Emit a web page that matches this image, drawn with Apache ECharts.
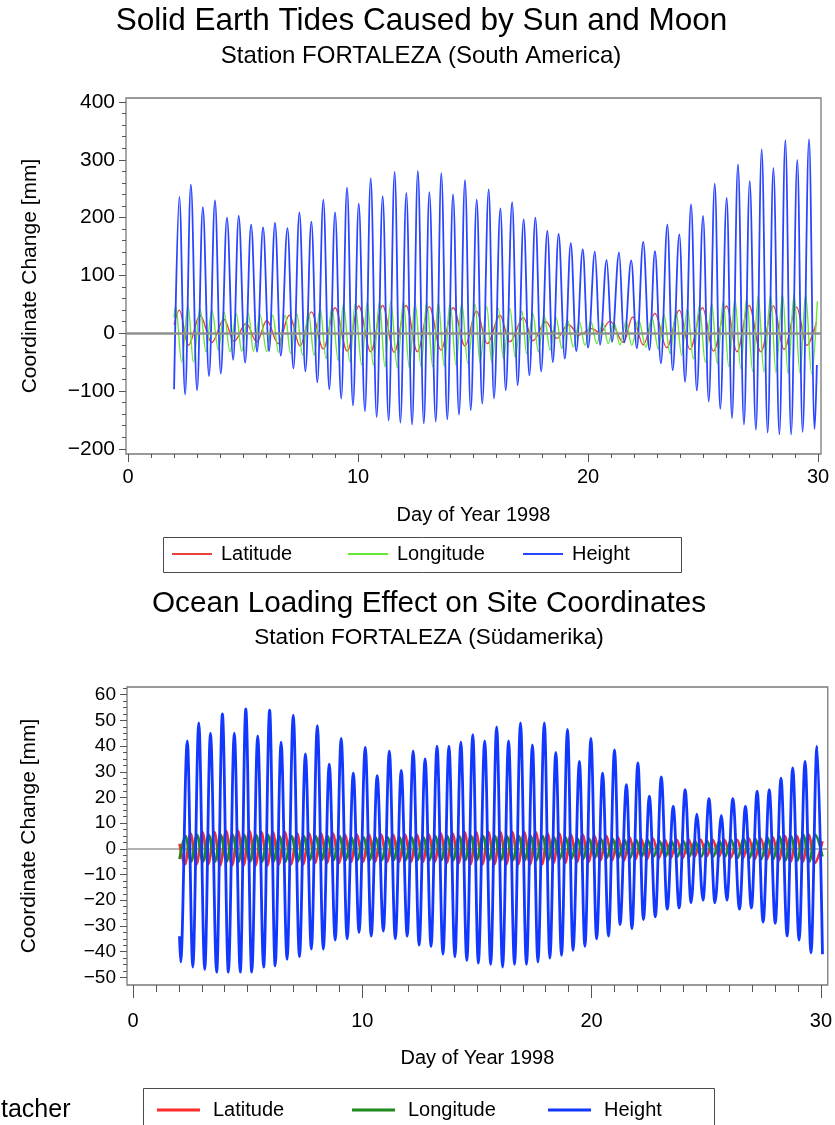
<!DOCTYPE html>
<html>
<head>
<meta charset="utf-8">
<script src="https://cdn.jsdelivr.net/npm/echarts@6/dist/echarts.min.js"></script>
<style>
html, body { margin: 0; padding: 0; background: #fff; }
#chart { width: 835px; height: 1125px; }
</style>
</head>
<body>
<div id="chart"></div>
<script>
// Day-of-year tick labels (both panels) and value tick labels per panel
const dayTickLabels = [0, 10, 20, 30];
const tideTickLabels = [-200, -100, 0, 100, 200, 300, 400];
const oceanTickLabels = [-50, -40, -30, -20, -10, 0, 10, 20, 30, 40, 50, 60];

// Solid earth tides, turning points of each curve: [day of year, mm]
const tideLatitude = [[2.00,15],[2.23,40],[2.62,-21],[3.13,31],[3.64,-16],[4.17,24],[4.61,-14],[5.13,17],[5.60,-15],[6.03,22],[6.53,-18],[7.01,31],[7.48,-22],[7.97,37],[8.49,-27],[9.00,44],[9.53,-31],[10.03,47],[10.55,-32],[11.07,48],[11.57,-33],[12.09,48],[12.58,-32],[13.10,46],[13.60,-29],[14.14,44],[14.65,-22],[15.15,38],[15.62,-18],[16.17,31],[16.60,-15],[17.19,27],[17.60,-13],[18.17,20],[18.64,-9],[19.14,15],[19.62,-3],[20.16,8],[20.52,1],[20.96,21],[21.54,-16],[21.94,28],[22.40,-20],[22.91,34],[23.42,-25],[23.97,40],[24.43,-28],[24.98,44],[25.45,-31],[26.03,47],[26.47,-32],[27.00,48],[27.51,-32],[28.06,47],[28.52,-28],[29.07,45],[29.51,-21],[29.94,20]];

const tideLongitude = [[2.00,27],[2.07,48],[2.33,-50],[2.61,48],[2.84,-50],[3.13,43],[3.39,-32],[3.64,40],[3.93,-29],[4.17,37],[4.43,-32],[4.70,34],[4.94,-31],[5.23,34],[5.45,-31],[5.74,31],[6.03,-32],[6.29,31],[6.54,-33],[6.83,31],[7.07,-35],[7.33,34],[7.59,-38],[7.84,37],[8.09,-38],[8.35,43],[8.61,-44],[8.86,46],[9.14,-47],[9.36,50],[9.65,-50],[9.87,51],[10.16,-55],[10.40,54],[10.67,-55],[10.93,54],[11.17,-58],[11.42,55],[11.71,-60],[11.97,55],[12.23,-60],[12.48,54],[12.74,-58],[12.99,54],[13.25,-58],[13.49,53],[13.75,-57],[14.00,53],[14.26,-55],[14.51,53],[14.77,-52],[15.09,50],[15.30,-50],[15.60,46],[15.81,-50],[16.10,43],[16.32,-44],[16.61,43],[16.83,-41],[17.12,38],[17.33,-35],[17.60,34],[17.84,-32],[18.09,31],[18.35,-29],[18.61,27],[18.86,-26],[19.10,24],[19.36,-24],[19.62,20],[19.87,-21],[20.12,21],[20.38,-18],[20.64,18],[20.88,-18],[21.13,18],[21.39,-20],[21.65,20],[21.90,-21],[22.20,22],[22.52,-24],[22.77,28],[23.06,-27],[23.30,32],[23.57,-35],[23.83,37],[24.07,-38],[24.32,43],[24.58,-44],[24.84,47],[25.10,-50],[25.38,51],[25.62,-52],[25.88,55],[26.12,-58],[26.39,59],[26.64,-61],[26.90,61],[27.16,-66],[27.40,65],[27.65,-67],[27.94,66],[28.17,-68],[28.46,67],[28.70,-70],[28.96,67],[29.22,-70],[29.46,67],[29.72,-70],[29.97,55]];

const tideHeight = [[2.00,-97],[2.23,236],[2.48,-106],[2.73,257],[3.00,-99],[3.25,218],[3.52,-74],[3.78,230],[4.03,-70],[4.30,200],[4.57,-46],[4.81,203],[5.09,-51],[5.35,188],[5.61,-32],[5.87,183],[6.13,-31],[6.39,191],[6.64,-39],[6.93,182],[7.19,-61],[7.45,209],[7.71,-66],[7.97,193],[8.23,-85],[8.49,231],[8.75,-97],[9.00,209],[9.27,-113],[9.52,252],[9.78,-125],[10.03,224],[10.30,-135],[10.55,268],[10.81,-145],[11.07,237],[11.33,-151],[11.59,279],[11.84,-155],[12.10,243],[12.35,-158],[12.60,281],[12.86,-156],[13.10,244],[13.38,-153],[13.62,277],[13.88,-149],[14.13,240],[14.39,-141],[14.65,265],[14.90,-133],[15.16,231],[15.40,-122],[15.68,249],[15.91,-113],[16.19,216],[16.42,-99],[16.70,227],[16.94,-90],[17.20,197],[17.45,-73],[17.71,200],[17.96,-66],[18.23,177],[18.47,-50],[18.72,172],[18.99,-44],[19.25,156],[19.49,-31],[19.77,145],[20.00,-25],[20.30,141],[20.52,-20],[20.81,127],[21.04,-15],[21.35,140],[21.57,-16],[21.88,126],[22.12,-26],[22.40,158],[22.67,-29],[22.91,142],[23.17,-52],[23.45,188],[23.68,-64],[23.97,171],[24.22,-84],[24.48,223],[24.73,-99],[25.00,203],[25.25,-118],[25.51,259],[25.75,-131],[26.03,234],[26.26,-147],[26.52,292],[26.78,-158],[27.03,263],[27.30,-167],[27.55,318],[27.81,-172],[28.06,286],[28.32,-175],[28.58,334],[28.83,-175],[29.10,300],[29.33,-171],[29.61,336],[29.85,-166],[29.95,-55]];

// Ocean loading, turning points of each curve: [day of year, mm]
const oceanLatitude = [[2.03,2],[2.27,-6],[2.51,6],[2.77,-6],[3.03,6.5],[3.28,-6],[3.55,6.5],[3.80,-6.5],[4.06,7],[4.32,-6.5],[4.58,7],[4.82,-6.5],[5.08,7],[5.34,-6.5],[5.60,6.5],[5.86,-6.5],[6.10,6.5],[6.36,-6],[6.62,6.5],[6.89,-6],[7.16,6],[7.42,-6],[7.68,6],[7.94,-5.5],[8.20,6],[8.46,-5.5],[8.72,6],[8.98,-5.5],[9.24,5.5],[9.51,-5],[9.76,5.5],[10.03,-5],[10.29,5.5],[10.55,-5],[10.82,5.5],[11.08,-5],[11.34,5.5],[11.60,-5],[11.86,5.5],[12.12,-5],[12.38,5.5],[12.64,-5],[12.90,5.5],[13.16,-5],[13.42,6],[13.68,-5.5],[13.94,6],[14.20,-5.5],[14.46,6.5],[14.72,-6],[14.96,6.5],[15.24,-6],[15.50,6.5],[15.76,-6],[16.02,6.5],[16.28,-6],[16.54,6.5],[16.80,-6],[17.06,6.5],[17.32,-6],[17.56,6.5],[17.84,-6],[18.08,6],[18.34,-5.5],[18.59,6],[18.85,-5.5],[19.09,5.5],[19.37,-5],[19.61,5.5],[19.87,-5],[20.12,5],[20.38,-4.5],[20.64,5],[20.90,-4.5],[21.14,4.5],[21.42,-4.5],[21.66,4.5],[21.92,-4],[22.16,4],[22.42,-4],[22.68,4],[22.94,-3.5],[23.20,3.5],[23.46,-3.5],[23.72,3.5],[23.98,-3.5],[24.24,3.5],[24.49,-3],[24.76,3.5],[25.02,-3],[25.28,3.5],[25.56,-3],[25.80,3.5],[26.06,-3.5],[26.35,3.5],[26.61,-3.5],[26.87,4],[27.12,-4],[27.38,4],[27.65,-4],[27.91,4.5],[28.16,-4.5],[28.43,5],[28.67,-5],[28.95,5],[29.21,-5],[29.47,5.5],[29.73,-5.5],[30.07,3]];

const oceanLongitude = [[2.03,-4],[2.29,5],[2.53,-5],[2.79,5.5],[3.05,-5],[3.30,5.5],[3.57,-5],[3.82,5.5],[4.08,-5],[4.34,5.5],[4.60,-5],[4.84,5.5],[5.10,-5],[5.36,5.5],[5.62,-5],[5.88,5.5],[6.12,-5],[6.38,5],[6.64,-5],[6.91,5],[7.18,-5],[7.44,5],[7.70,-4.5],[7.96,5],[8.22,-4.5],[8.48,5],[8.74,-4.5],[9.00,5],[9.26,-4.5],[9.53,4.5],[9.78,-4.5],[10.05,4.5],[10.31,-4.5],[10.57,4.5],[10.84,-4.5],[11.10,4.5],[11.36,-4.5],[11.62,4.5],[11.88,-4.5],[12.14,4.5],[12.40,-4.5],[12.66,4.5],[12.92,-4.5],[13.18,5],[13.44,-4.5],[13.70,5],[13.96,-4.5],[14.22,5],[14.48,-4.5],[14.74,5],[14.98,-4.5],[15.26,5],[15.52,-4.5],[15.78,5],[16.04,-4.5],[16.30,5],[16.56,-4.5],[16.82,5],[17.08,-4.5],[17.34,5],[17.58,-4.5],[17.86,5],[18.10,-4.5],[18.36,4.5],[18.61,-4],[18.87,4.5],[19.11,-4],[19.39,4],[19.63,-4],[19.89,4],[20.14,-3.5],[20.40,4],[20.66,-3.5],[20.92,4],[21.16,-3.5],[21.44,3.5],[21.68,-3.5],[21.94,3.5],[22.18,-3],[22.44,3.5],[22.70,-3],[22.96,3],[23.22,-3],[23.48,3],[23.74,-3],[24.00,3],[24.26,-3],[24.51,3],[24.78,-3],[25.04,3],[25.30,-3],[25.58,3],[25.82,-3],[26.08,3.5],[26.37,-3.5],[26.63,4],[26.89,-3.5],[27.14,4],[27.40,-4],[27.67,4.5],[27.93,-4],[28.18,5],[28.45,-4.5],[28.69,5],[28.97,-4.5],[29.23,5.5],[29.49,-5],[29.75,5.5],[30.07,-3]];

const oceanHeight = [[2.03,-34],[2.08,-44],[2.37,42],[2.61,-46],[2.87,49],[3.13,-47],[3.38,45],[3.65,-48],[3.90,52.5],[4.16,-48],[4.42,45],[4.68,-48],[4.92,54.5],[5.18,-48],[5.44,44],[5.70,-46],[5.96,54],[6.20,-45.5],[6.46,41.5],[6.72,-43],[6.99,52],[7.26,-42],[7.52,37],[7.78,-39],[8.04,48],[8.30,-39],[8.56,33],[8.82,-35.5],[9.08,43],[9.34,-35],[9.61,29.5],[9.86,-32.5],[10.13,39.5],[10.39,-34],[10.65,28.5],[10.92,-32],[11.18,38],[11.44,-35],[11.70,30.5],[11.96,-34],[12.22,38],[12.48,-37.5],[12.74,35],[13.00,-38],[13.26,40],[13.52,-41],[13.78,40],[14.04,-42],[14.30,41.5],[14.56,-43.5],[14.82,44.5],[15.06,-44.5],[15.34,42],[15.60,-45],[15.86,47.5],[16.12,-46],[16.38,42],[16.64,-45],[16.90,49],[17.16,-45],[17.42,40.5],[17.66,-44],[17.94,49],[18.18,-42.5],[18.44,37.5],[18.69,-41.5],[18.95,46.5],[19.19,-39.5],[19.47,34],[19.71,-38],[19.97,43],[20.22,-35],[20.48,29.5],[20.74,-34],[21.00,38.5],[21.24,-29.5],[21.52,25],[21.76,-31],[22.02,33.5],[22.26,-27.5],[22.52,20.5],[22.78,-26.5],[23.04,28],[23.30,-23.5],[23.56,16.5],[23.82,-23],[24.08,23],[24.34,-21],[24.59,13.5],[24.86,-20],[25.12,19.5],[25.38,-21],[25.66,13],[25.90,-20],[26.16,19.5],[26.45,-23.5],[26.71,16.5],[26.97,-23],[27.22,22.5],[27.48,-28.5],[27.75,23],[28.01,-29],[28.26,27.5],[28.53,-34],[28.77,31.5],[29.05,-35.5],[29.31,34],[29.57,-40.5],[29.83,40],[30.07,-41]];

const FONT = '"Liberation Sans", Arial, Helvetica, sans-serif';
const INK = '#000000';
const FRAME = '#7a7a7a';
const TICK = '#555555';

const TOP_COLORS = { Latitude: '#e8403a', Longitude: '#66e636', Height: '#2a45ff' };
const BOT_COLORS = { Latitude: '#ff2a2a', Longitude: '#1e8a1e', Height: '#1238ff' };

const minus = v => (v < 0 ? '\u2212' + Math.abs(v) : String(v));
const rangeStep = (a, b, s) => { const out = []; for (let v = a; v <= b + 1e-9; v += s) out.push(+v.toFixed(3)); return out; };

// minor tick positions
const dayMinor = rangeStep(0, 30, 1);
const tideMinor = rangeStep(-200, 400, 20);
const oceanMinor = rangeStep(-50, 62.5, 2.5);

function xAxes(grid, min, max, tickLen, minorLen, margin, nameGap) {
  const base = {
    type: 'value', gridIndex: grid, position: 'bottom', min, max,
    axisLine: { show: false, onZero: false },
    splitLine: { show: false }
  };
  return [
    Object.assign({}, base, {
      axisTick: { show: true, length: tickLen, customValues: dayTickLabels, lineStyle: { color: TICK, width: 1 } },
      axisLabel: { customValues: dayTickLabels, margin, fontSize: 20, fontFamily: FONT, color: INK },
      name: 'Day of Year 1998', nameLocation: 'middle', nameGap,
      nameTextStyle: { fontSize: 20, fontFamily: FONT, color: INK }
    }),
    Object.assign({}, base, {
      axisTick: { show: true, length: minorLen, customValues: dayMinor, lineStyle: { color: TICK, width: 1 } },
      axisLabel: { show: false }
    })
  ];
}

function yAxes(grid, min, max, majors, minors, fontSize, nameGap, margin) {
  const base = {
    type: 'value', gridIndex: grid, position: 'left', min, max,
    axisLine: { show: false, onZero: false },
    splitLine: { show: false }
  };
  return [
    Object.assign({}, base, {
      axisTick: { show: true, length: 7, customValues: majors, lineStyle: { color: TICK, width: 1 } },
      axisLabel: { customValues: majors, formatter: minus, margin, fontSize, fontFamily: FONT, color: INK },
      name: 'Coordinate Change [mm]', nameLocation: 'middle', nameRotate: 90, nameGap,
      nameTextStyle: { fontSize: 21, fontFamily: FONT, color: INK }
    }),
    Object.assign({}, base, {
      axisTick: { show: true, length: 4, customValues: minors, lineStyle: { color: TICK, width: 1 } },
      axisLabel: { show: false }
    })
  ];
}

function lineSeries(name, data, grid, color, width, extra) {
  return Object.assign({
    type: 'line', name, data,
    xAxisIndex: grid * 2, yAxisIndex: grid * 2,
    showSymbol: false, symbol: 'none',
    smooth: 0.36, smoothMonotone: 'x',
    lineStyle: { color, width },
    itemStyle: { color },
    silent: true, clip: true
  }, extra || {});
}

function legendItem(left, top, name, color, h, fontSize, gap, iconW) {
  return {
    left, top, orient: 'horizontal', padding: 0, icon: 'rect',
    itemWidth: iconW, itemHeight: h, selectedMode: false,
    data: [{ name, itemStyle: { color } }],
    textStyle: { fontSize, fontFamily: FONT, color: INK, lineHeight: 22, padding: [0, 0, 0, gap] }
  };
}

function titleText(text, x, y, size) {
  return { text, left: x, top: y, textAlign: 'center', padding: 0,
    textStyle: { fontSize: size, fontWeight: 'normal', fontFamily: FONT, color: INK, lineHeight: size + 1 } };
}

const chart = echarts.init(document.getElementById('chart'), null, { renderer: 'canvas' });

chart.setOption({
  animation: false,
  backgroundColor: '#ffffff',
  title: [
    titleText('Solid Earth Tides Caused by Sun and Moon', 421.5, 5, 31.5),
    titleText('Station FORTALEZA (South America)', 421, 44, 24),
    titleText('Ocean Loading Effect on Site Coordinates', 429, 588, 29.7),
    titleText('Station FORTALEZA (S\u00fcdamerika)', 429, 626, 22.6)
  ],
  grid: [
    { left: 126, top: 98, width: 695, height: 356, show: true, borderColor: FRAME, borderWidth: 1.3, backgroundColor: 'transparent' },
    { left: 127, top: 687, width: 706, height: 298, show: true, borderColor: FRAME, borderWidth: 1.3, backgroundColor: 'transparent' }
  ],
  xAxis: [
    ...xAxes(0, -0.09, 30.13, 8, 4, 13, 51),
    ...xAxes(1, -0.26, 30.30, 13, 7, 26, 63)
  ],
  yAxis: [
    ...yAxes(0, -209, 407, tideTickLabels, tideMinor, 21, 85, 11),
    ...yAxes(1, -53, 63, oceanTickLabels, oceanMinor, 19, 87, 11)
  ],
  legend: [
    legendItem(172, 543, 'Latitude', TOP_COLORS.Latitude, 2, 20, 4, 40),
    legendItem(348, 543, 'Longitude', TOP_COLORS.Longitude, 2, 20, 4, 40),
    legendItem(523, 543, 'Height', TOP_COLORS.Height, 2, 20, 4, 40),
    legendItem(157, 1099, 'Latitude', BOT_COLORS.Latitude, 3, 20, 8, 43),
    legendItem(352, 1099, 'Longitude', BOT_COLORS.Longitude, 3, 20, 8, 43),
    legendItem(548, 1099, 'Height', BOT_COLORS.Height, 3, 20, 8, 43)
  ],
  graphic: [
    { type: 'rect', shape: { x: 163.5, y: 537.5, width: 518, height: 35 }, style: { fill: 'none', stroke: '#4a4a4a', lineWidth: 1 }, silent: true },
    { type: 'rect', shape: { x: 143.5, y: 1088.5, width: 571, height: 60 }, style: { fill: 'none', stroke: '#4a4a4a', lineWidth: 1 }, silent: true },
    { type: 'text', x: 1, y: 1110, style: { text: 'tacher', fontSize: 25, fontFamily: FONT, fill: INK, verticalAlign: 'middle' }, silent: true }
  ],
  series: [
    lineSeries('Latitude', tideLatitude, 0, TOP_COLORS.Latitude, 1.4),
    lineSeries('Longitude', tideLongitude, 0, TOP_COLORS.Longitude, 1.4),
    lineSeries('Height', tideHeight, 0, TOP_COLORS.Height, 1.8, {
      markLine: { silent: true, symbol: 'none', label: { show: false }, z: 5,
        lineStyle: { color: '#8f8f8f', width: 2.5, type: 'solid' }, data: [{ yAxis: 0 }] }
    }),
    lineSeries('Latitude', oceanLatitude, 1, BOT_COLORS.Latitude, 2.6),
    lineSeries('Longitude', oceanLongitude, 1, BOT_COLORS.Longitude, 2.6),
    lineSeries('Height', oceanHeight, 1, BOT_COLORS.Height, 2.8, {
      markLine: { silent: true, symbol: 'none', label: { show: false }, z: 1,
        lineStyle: { color: '#9a9a9a', width: 1.5, type: 'solid' }, data: [{ yAxis: 0 }] }
    })
  ]
});
</script>
</body>
</html>
